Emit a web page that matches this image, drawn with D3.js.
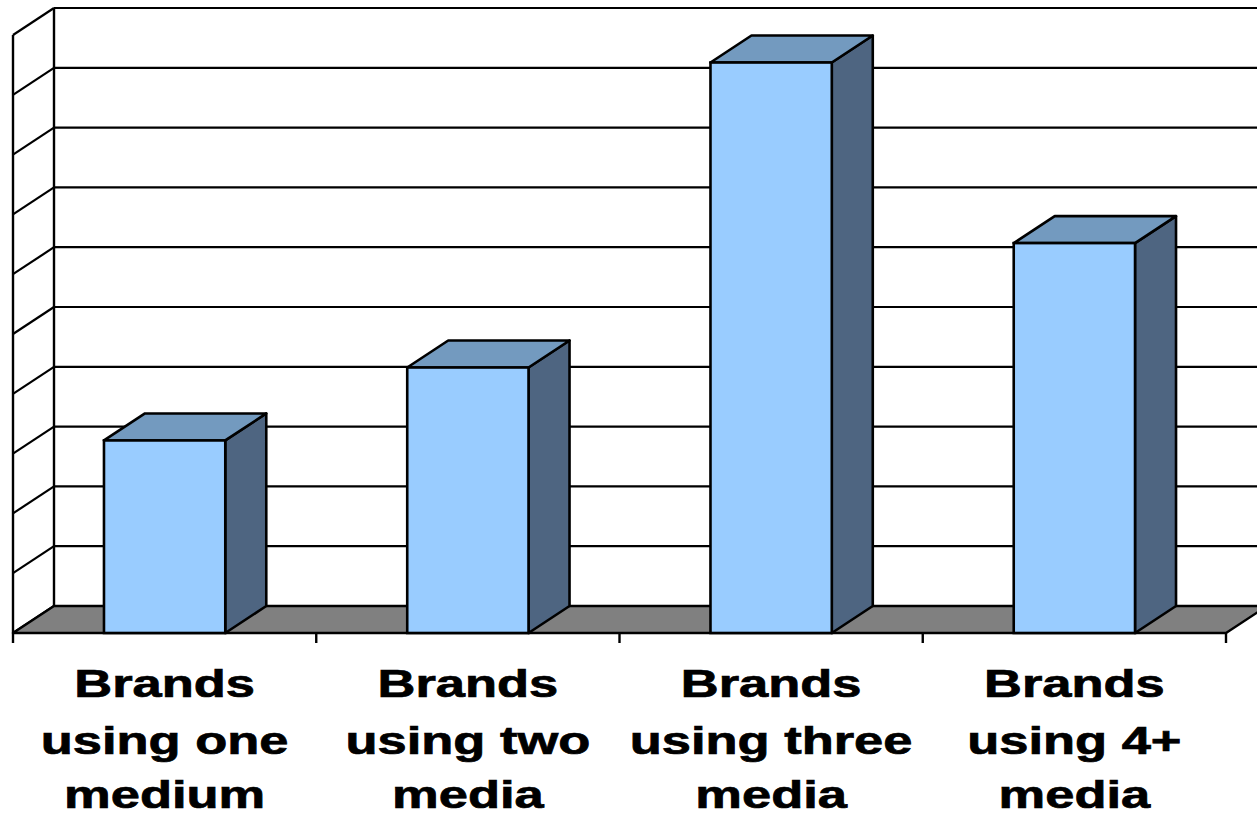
<!DOCTYPE html>
<html>
<head>
<meta charset="utf-8">
<script src="https://cdn.jsdelivr.net/npm/d3@7/dist/d3.min.js"></script>
<style>
  html, body { margin: 0; padding: 0; background: #ffffff; }
  svg { display: block; }
</style>
</head>
<body>
<script>
// ---- data ----
const categories = ["Brands using one medium", "Brands using two media", "Brands using three media", "Brands using 4+ media"];
const categoryLines = [
  ["Brands", "using one", "medium"],
  ["Brands", "using two", "media"],
  ["Brands", "using three", "media"],
  ["Brands", "using 4+", "media"]
];
const values = [16.1, 22.2, 47.7, 32.6];
const yTicks = [0, 5, 10, 15, 20, 25, 30, 35, 40, 45, 50];

// ---- layout ----
const W = 1257, H = 817;
const x0 = 13, x1 = 1226;        // front floor edge
const yFloor = 633, yTop = 35;   // front scale range
const DX = 41, DY = -27;         // depth offset

const svg = d3.select("body").append("svg").attr("width", W).attr("height", H);

const x = d3.scaleBand().domain(categories).range([x0, x1]).paddingInner(0.6).paddingOuter(0.3);
const y = d3.scaleLinear().domain([0, 50]).range([yFloor, yTop]);
const step = (x1 - x0) / categories.length;

const line = d3.line();

// back wall gridlines
const g = svg.append("g");
g.selectAll("line.grid").data(yTicks).enter().append("line")
  .attr("x1", x0 + DX).attr("x2", x1 + DX)
  .attr("y1", d => y(d) + DY).attr("y2", d => y(d) + DY)
  .attr("stroke", "#000").attr("stroke-width", 2.2);

// side wall diagonals
g.selectAll("line.side").data(yTicks).enter().append("line")
  .attr("x1", x0).attr("y1", d => y(d))
  .attr("x2", x0 + DX).attr("y2", d => y(d) + DY)
  .attr("stroke", "#000").attr("stroke-width", 2.2);

// wall vertical edges
g.append("line").attr("x1", x0).attr("x2", x0).attr("y1", y(50)).attr("y2", y(0))
  .attr("stroke", "#000").attr("stroke-width", 2.4);
g.append("line").attr("x1", x0 + DX).attr("x2", x0 + DX).attr("y1", y(50) + DY).attr("y2", y(0) + DY)
  .attr("stroke", "#000").attr("stroke-width", 2.4);

// floor
g.append("path")
  .attr("d", line([[x0, yFloor], [x1, yFloor], [x1 + DX, yFloor + DY], [x0 + DX, yFloor + DY]]) + "Z")
  .attr("fill", "#808080").attr("stroke", "#000").attr("stroke-width", 2.4).attr("stroke-linejoin", "round");

// x-axis ticks
g.selectAll("line.tick").data(d3.range(categories.length + 1)).enter().append("line")
  .attr("x1", i => x0 + i * step).attr("x2", i => x0 + i * step)
  .attr("y1", yFloor).attr("y2", yFloor + 10)
  .attr("stroke", "#000").attr("stroke-width", 2.4);

// bars
const bars = svg.append("g").selectAll("g.bar").data(values).enter().append("g");
const bw = x.bandwidth();
bars.append("path") // side
  .attr("d", (d, i) => {
    const bx = x(categories[i]) + bw, by = y(d);
    return line([[bx, by], [bx + DX, by + DY], [bx + DX, yFloor + DY], [bx, yFloor]]) + "Z";
  })
  .attr("fill", "#4E6581").attr("stroke", "#000").attr("stroke-width", 2.6).attr("stroke-linejoin", "round");
bars.append("path") // top
  .attr("d", (d, i) => {
    const bx = x(categories[i]), by = y(d);
    return line([[bx, by], [bx + bw, by], [bx + bw + DX, by + DY], [bx + DX, by + DY]]) + "Z";
  })
  .attr("fill", "#739ABF").attr("stroke", "#000").attr("stroke-width", 2.6).attr("stroke-linejoin", "round");
bars.append("rect") // front
  .attr("x", (d, i) => x(categories[i]))
  .attr("y", d => y(d))
  .attr("width", bw)
  .attr("height", d => yFloor - y(d))
  .attr("fill", "#99CCFF").attr("stroke", "#000").attr("stroke-width", 2.6);

// category labels
const baselines = [697, 754, 808];
const lab = svg.append("g");
categoryLines.forEach((lines, i) => {
  const cx = x0 + (i + 0.5) * step;
  lines.forEach((t, j) => {
    lab.append("text")
      .attr("transform", `translate(${cx},${baselines[j]}) scale(1.38,1)`)
      .attr("text-anchor", "middle")
      .attr("font-family", "'Liberation Sans', Arial, sans-serif")
      .attr("font-weight", "bold")
      .attr("font-size", 38)
      .attr("fill", "#000")
      .attr("stroke", "#000")
      .attr("stroke-width", 0.7)
      .text(t);
  });
});
</script>
</body>
</html>
